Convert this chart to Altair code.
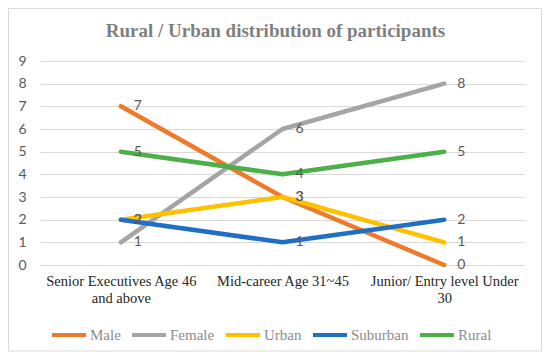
import altair as alt
import pandas as pd

title_text = "Rural / Urban distribution of participants"
categories = ["Senior Executives Age 46 and above", "Mid-career Age 31~45", "Junior/ Entry level Under 30"]
label_lines = [["Senior Executives Age 46", "and above"], ["Mid-career Age 31~45"], ["Junior/ Entry level Under", "30"]]
series = ["Male", "Female", "Urban", "Suburban", "Rural"]
male = [7, 3, 0]
female = [1, 6, 8]
urban = [2, 3, 1]
suburban = [2, 1, 2]
rural = [5, 4, 5]
colors = ["#F07A2C", "#A5A5A5", "#FFC000", "#1F6FC5", "#4CAF48"]

values = [male, female, urban, suburban, rural]
rows = []
for s, vals in zip(series, values):
    for c, v in zip(categories, vals):
        rows.append({"series": s, "category": c, "value": v})
df = pd.DataFrame(rows)

expr = "''"
for c, lines in reversed(list(zip(categories, label_lines))):
    arr = "[" + ",".join("'" + l + "'" for l in lines) + "]"
    expr = f"datum.value == '{c}' ? {arr} : ({expr})"

x_enc = alt.X("category:N", sort=categories, scale=alt.Scale(type="point", padding=0.5),
              axis=alt.Axis(labelAngle=0, labelExpr=expr, domain=False, ticks=False,
                            labelFont="Liberation Serif", labelFontSize=14.5, labelColor="#262626",
                            labelPadding=9, labelLineHeight=17, labelLimit=300, title=None))
y_enc = alt.Y("value:Q", scale=alt.Scale(domain=[0, 9], nice=False),
              axis=alt.Axis(values=list(range(10)), grid=True, gridColor="#D9D9D9", domain=False,
                            ticks=False, labelFont="Lato", labelFontSize=14, labelColor="#595959",
                            labelPadding=14, title=None))

base = alt.Chart(df).encode(x=x_enc, y=y_enc)

lines = base.mark_line(strokeWidth=4.5, strokeJoin="round", strokeCap="round").encode(
    color=alt.Color("series:N", sort=series, scale=alt.Scale(domain=series, range=colors),
                    legend=alt.Legend(orient="none", legendX=10, legendY=255, direction="horizontal",
                                      symbolType="stroke", symbolStrokeWidth=4, symbolSize=1156,
                                      labelFont="Liberation Serif", labelFontSize=15,
                                      labelColor="#8C8C8C", columnPadding=3, labelOffset=2,
                                      gridAlign="none", title=None))
)

labels = base.mark_text(align="left", baseline="middle", dx=13, font="Lato", fontSize=14,
                        color="#595959").encode(text="value:Q")

frame = alt.Chart(pd.DataFrame({"a": [0]})).mark_rect(filled=False, color="#D9D9D9",
                                                       strokeWidth=1).encode(
    x=alt.value(-31.5), x2=alt.value(501.5), y=alt.value(-52.5), y2=alt.value(290))

title = alt.Chart(pd.DataFrame({"t": [title_text]})).mark_text(
    font="Liberation Serif", fontSize=19, fontWeight="bold", color="#7F7F7F",
    align="center", baseline="alphabetic").encode(
    text="t:N", x=alt.value(235.5), y=alt.value(-24))

chart = alt.layer(frame, lines, labels, title).properties(
    width=485, height=204,
    padding={"left": 32, "top": 53, "right": 17, "bottom": 89},
    autosize=alt.AutoSizeParams(type="none"),
).configure_view(stroke=None)

chart.save("out.html", embed_options={"renderer": "svg", "actions": False})
